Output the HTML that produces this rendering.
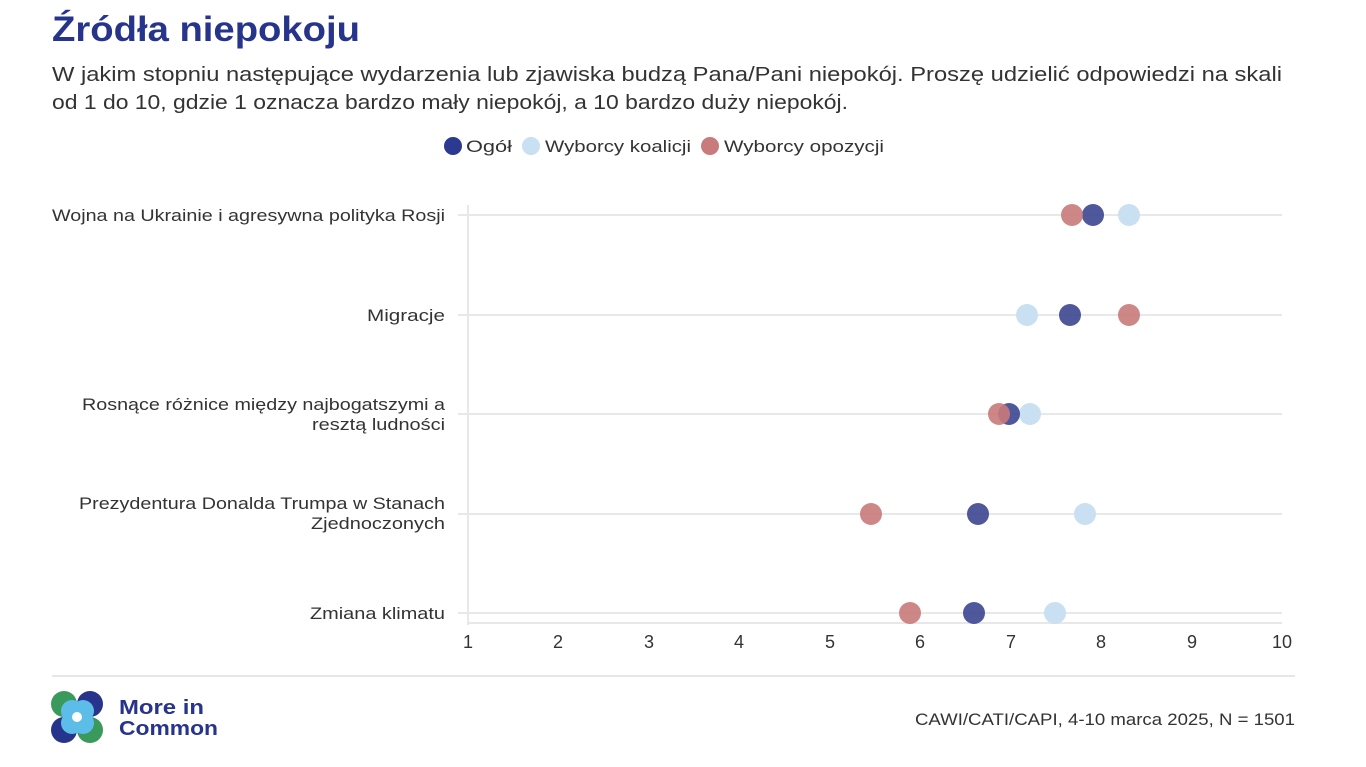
<!DOCTYPE html>
<html><head><meta charset="utf-8"><style>
body{margin:0;width:1366px;height:767px;background:#fff;overflow:hidden;font-family:"Liberation Sans",sans-serif;position:relative}
</style></head><body>
<svg width="1366" height="767" style="position:absolute;left:0;top:0" font-family="Liberation Sans, sans-serif">
<text x="52" y="41" font-size="35" font-weight="bold" fill="#27348b" textLength="308" lengthAdjust="spacingAndGlyphs">Źródła niepokoju</text>
<g font-size="20.5" fill="#333">
<text x="52" y="81" textLength="1230" lengthAdjust="spacingAndGlyphs">W jakim stopniu następujące wydarzenia lub zjawiska budzą Pana/Pani niepokój. Proszę udzielić odpowiedzi na skali</text>
<text x="52" y="109" textLength="796" lengthAdjust="spacingAndGlyphs">od 1 do 10, gdzie 1 oznacza bardzo mały niepokój, a 10 bardzo duży niepokój.</text>
</g>
<g font-size="17" fill="#333">
<circle cx="453" cy="146" r="9" fill="#2b3990"/><text x="466" y="152" textLength="46" lengthAdjust="spacingAndGlyphs">Ogół</text>
<circle cx="531" cy="146" r="9" fill="#c9dff2"/><text x="545" y="152" textLength="146" lengthAdjust="spacingAndGlyphs">Wyborcy koalicji</text>
<circle cx="710" cy="146" r="9" fill="#c97a7a"/><text x="724" y="152" textLength="160" lengthAdjust="spacingAndGlyphs">Wyborcy opozycji</text>
</g>
<g stroke="#e8e8e8" stroke-width="2">
<line x1="458" y1="215" x2="1282" y2="215"/><line x1="458" y1="315" x2="1282" y2="315"/><line x1="458" y1="414" x2="1282" y2="414"/><line x1="458" y1="514" x2="1282" y2="514"/><line x1="458" y1="613" x2="1282" y2="613"/>
<line x1="468" y1="205" x2="468" y2="625"/>
<line x1="468" y1="623" x2="1282" y2="623"/>
</g>
<line x1="52" y1="676" x2="1295" y2="676" stroke="#ddd" stroke-width="1.5"/>
<g font-size="17" fill="#333" text-anchor="end" lengthAdjust="spacingAndGlyphs">
<text x="445" y="221" textLength="393" lengthAdjust="spacingAndGlyphs">Wojna na Ukrainie i agresywna polityka Rosji</text>
<text x="445" y="321" textLength="78" lengthAdjust="spacingAndGlyphs">Migracje</text>
<text x="445" y="410" textLength="363" lengthAdjust="spacingAndGlyphs">Rosnące różnice między najbogatszymi a</text><text x="445" y="430" textLength="133" lengthAdjust="spacingAndGlyphs">resztą ludności</text>
<text x="445" y="509" textLength="366" lengthAdjust="spacingAndGlyphs">Prezydentura Donalda Trumpa w Stanach</text><text x="445" y="529" textLength="134" lengthAdjust="spacingAndGlyphs">Zjednoczonych</text>
<text x="445" y="619" textLength="135" lengthAdjust="spacingAndGlyphs">Zmiana klimatu</text>
</g>
<g font-size="18" fill="#333" text-anchor="middle">
<text x="468" y="648">1</text><text x="558" y="648">2</text><text x="649" y="648">3</text><text x="739" y="648">4</text><text x="830" y="648">5</text><text x="920" y="648">6</text><text x="1011" y="648">7</text><text x="1101" y="648">8</text><text x="1192" y="648">9</text><text x="1282" y="648">10</text>
</g>
<g>
<circle cx="1129" cy="215" r="11" fill="#c9dff2"/><circle cx="1093" cy="215" r="11" fill="#3c468f" opacity=".9"/><circle cx="1072" cy="215" r="11" fill="#c97a7a" opacity=".9"/>
<circle cx="1027" cy="315" r="11" fill="#c9dff2"/><circle cx="1070" cy="315" r="11" fill="#3c468f" opacity=".9"/><circle cx="1129" cy="315" r="11" fill="#c97a7a" opacity=".9"/>
<circle cx="1030" cy="414" r="11" fill="#c9dff2"/><circle cx="1009" cy="414" r="11" fill="#3c468f" opacity=".9"/><circle cx="999" cy="414" r="11" fill="#c97a7a" opacity=".9"/>
<circle cx="1085" cy="514" r="11" fill="#c9dff2"/><circle cx="978" cy="514" r="11" fill="#3c468f" opacity=".9"/><circle cx="871" cy="514" r="11" fill="#c97a7a" opacity=".9"/>
<circle cx="1055" cy="613" r="11" fill="#c9dff2"/><circle cx="974" cy="613" r="11" fill="#3c468f" opacity=".9"/><circle cx="910" cy="613" r="11" fill="#c97a7a" opacity=".9"/>
</g>
<g>
<circle cx="64" cy="704" r="13" fill="#3a9a5b"/><circle cx="90" cy="704" r="13" fill="#27348b"/>
<circle cx="64" cy="730" r="13" fill="#27348b"/><circle cx="90" cy="730" r="13" fill="#3a9a5b"/>
<circle cx="72" cy="711" r="11" fill="#5bbde8"/><circle cx="83" cy="711" r="11" fill="#5bbde8"/><circle cx="72" cy="723" r="11" fill="#5bbde8"/><circle cx="83" cy="723" r="11" fill="#5bbde8"/>
<circle cx="77" cy="717" r="5" fill="#fff"/>
</g>
<g font-size="20" font-weight="bold" fill="#27348b"><text x="119" y="714" textLength="85" lengthAdjust="spacingAndGlyphs">More in</text><text x="119" y="735" textLength="99" lengthAdjust="spacingAndGlyphs">Common</text></g>
<text x="1295" y="725" font-size="17" fill="#333" text-anchor="end" textLength="380" lengthAdjust="spacingAndGlyphs">CAWI/CATI/CAPI, 4-10 marca 2025, N = 1501</text>
</svg>
</body></html>
